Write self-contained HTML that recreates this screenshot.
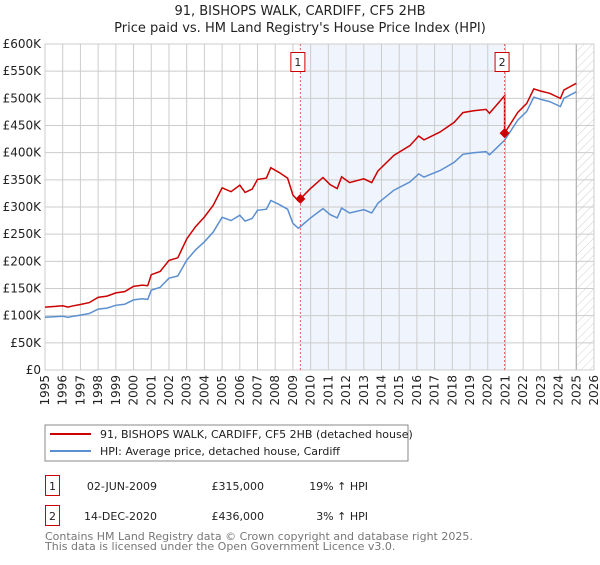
<!DOCTYPE html>
<html><head><meta charset="utf-8"><style>
body{margin:0;background:#fff;}
svg text{font-family:"DejaVu Sans","Liberation Sans",sans-serif;}
</style></head><body>
<svg id="chart" width="600" height="560" xmlns="http://www.w3.org/2000/svg">
<text x="300" y="15" text-anchor="middle" font-size="13" fill="#222">91, BISHOPS WALK, CARDIFF, CF5 2HB</text>
<text x="300" y="32" text-anchor="middle" font-size="13" fill="#222">Price paid vs. HM Land Registry's House Price Index (HPI)</text>
<defs><pattern id="hatch" width="6" height="6" patternUnits="userSpaceOnUse" patternTransform="rotate(45)"><line x1="0" y1="0" x2="0" y2="6" stroke="#d0d0d0" stroke-width="1"/></pattern></defs>
<g id="bg"></g><g id="grid"></g><g id="axes"></g><g id="series"></g><g id="marks"></g>
<rect x="45" y="425" width="363" height="36" fill="#fff" stroke="#888"/>
<line x1="50" y1="434" x2="91" y2="434" stroke="#cc0000" stroke-width="2"/>
<text x="100" y="438" font-size="11" fill="#222">91, BISHOPS WALK, CARDIFF, CF5 2HB (detached house)</text>
<line x1="50" y1="451" x2="91" y2="451" stroke="#5b8fd0" stroke-width="2"/>
<text x="100" y="455" font-size="11" fill="#222">HPI: Average price, detached house, Cardiff</text>
<g font-size="11" fill="#222">
<rect x="45.5" y="475.5" width="14" height="20" fill="none" stroke="#cc0000"/>
<text x="52.5" y="490" text-anchor="middle">1</text>
<text x="157" y="490" text-anchor="end">02-JUN-2009</text>
<text x="264" y="490" text-anchor="end">£315,000</text>
<text x="368" y="490" text-anchor="end">19% ↑ HPI</text>
<rect x="45.5" y="505.5" width="14" height="20" fill="none" stroke="#cc0000"/>
<text x="52.5" y="520" text-anchor="middle">2</text>
<text x="157" y="520" text-anchor="end">14-DEC-2020</text>
<text x="264" y="520" text-anchor="end">£436,000</text>
<text x="368" y="520" text-anchor="end">3% ↑ HPI</text>
</g>
<text x="45" y="540" font-size="11" fill="#777">Contains HM Land Registry data © Crown copyright and database right 2025.</text>
<text x="45" y="550" font-size="11" fill="#777">This data is licensed under the Open Government Licence v3.0.</text>
</svg>
<script>
const hpiYears=[1995,1995.5,1996,1996.3,1996.6,1997,1997.5,1998,1998.5,1999,1999.5,2000,2000.5,2000.8,2001,2001.5,2002,2002.5,2003,2003.5,2004,2004.5,2005,2005.5,2006,2006.3,2006.7,2007,2007.5,2007.75,2008.2,2008.7,2009,2009.3,2009.42,2009.96,2010.7,2011.1,2011.5,2011.75,2012.2,2013.0,2013.45,2013.8,2014.7,2015.6,2016.1,2016.4,2017.3,2018.1,2018.6,2019.2,2019.9,2020.1,2020.95,2021.7,2022.2,2022.6,2023.0,2023.5,2024.1,2024.3,2025.0];
const hpiValues=[97,98,99,97,99,101,104,112,114,119,121,129,131,130,147,152,169,173,202,221,236,254,281,275,285,274,279,294,296,312,305,296,270,261,264,279,297,286,280,298,289,295,289,307,331,346,361,355,367,382,397,400,402,396,423,460,476,502,498,494,485,500,512];
const saleYears=[2009.42,2020.95];
const salePrices=[315,436];
const yTicks=[0,50,100,150,200,250,300,350,400,450,500,550,600];
const xTicks=[1995,1996,1997,1998,1999,2000,2001,2002,2003,2004,2005,2006,2007,2008,2009,2010,2011,2012,2013,2014,2015,2016,2017,2018,2019,2020,2021,2022,2023,2024,2025,2026];
const X0=45,X1=594,Y0=370,Y1=44;
const xs=y=>X0+(y-1995)/(2026-1995)*(X1-X0);
const ys=v=>Y0-v/600*(Y0-Y1);
const NS="http://www.w3.org/2000/svg";
function mk(t,a,p){const e=document.createElementNS(NS,t);for(const k in a)e.setAttribute(k,a[k]);p.appendChild(e);return e;}
function hpiAt(t){for(let i=1;i<hpiYears.length;i++){if(t<=hpiYears[i]){const f=(t-hpiYears[i-1])/(hpiYears[i]-hpiYears[i-1]);return hpiValues[i-1]+f*(hpiValues[i]-hpiValues[i-1]);}}return hpiValues[hpiValues.length-1];}
const bg=document.getElementById('bg'),grid=document.getElementById('grid'),axes=document.getElementById('axes'),series=document.getElementById('series'),marks=document.getElementById('marks');
let r=mk('rect',{x:xs(saleYears[0]),y:Y1,width:xs(saleYears[1])-xs(saleYears[0]),height:Y0-Y1,fill:'#f0f4fd'},bg);


r=mk('rect',{x:xs(2025),y:Y1,width:X1-xs(2025),height:Y0-Y1,fill:'url(#hatch)'},bg);


yTicks.forEach(v=>{
 const l=mk('line',{x1:X0,x2:X1,y1:ys(v),y2:ys(v),stroke:'#ccc'},grid);
 
 
 const t=mk('text',{x:X0-4,y:ys(v)+4,'text-anchor':'end','font-size':'12',fill:'#222'},axes);
 t.textContent=v===0?'£0':'£'+v+'K';
 
 
});
xTicks.forEach(y=>{
 const l=mk('line',{x1:xs(y),x2:xs(y),y1:Y1,y2:Y0,stroke:'#ccc'},grid);
 
 
 const t=mk('text',{x:0,y:0,'text-anchor':'end','font-size':'12',fill:'#222',transform:`translate(${xs(y)+4},${Y0+5}) rotate(-90)`},axes);
 t.textContent=y;
 
 
});
const vl=mk('line',{x1:xs(2025),x2:xs(2025),y1:Y1,y2:Y0,stroke:'#aaa','stroke-width':1},grid);


let hp='';hpiYears.forEach((y,i)=>{hp+=(i?'L':'M')+xs(y).toFixed(1)+','+ys(hpiValues[i]).toFixed(1);});
const hl=mk('path',{d:hp,fill:'none',stroke:'#5b8fd0','stroke-width':1.5},series);


const r1=salePrices[0]/hpiAt(saleYears[0]),r2=salePrices[1]/hpiAt(saleYears[1]);
let rp='';
hpiYears.forEach((y,i)=>{if(y<saleYears[1])rp+=(rp?'L':'M')+xs(y).toFixed(1)+','+ys(hpiValues[i]*r1).toFixed(1);});
rp+='L'+xs(saleYears[1]).toFixed(1)+','+ys(hpiAt(saleYears[1])*r1).toFixed(1);
rp+='L'+xs(saleYears[1]).toFixed(1)+','+ys(salePrices[1]).toFixed(1);
hpiYears.forEach((y,i)=>{if(y>saleYears[1])rp+='L'+xs(y).toFixed(1)+','+ys(hpiValues[i]*r2).toFixed(1);});
const pl=mk('path',{d:rp,fill:'none',stroke:'#cc0000','stroke-width':1.5},series);


saleYears.forEach((y,i)=>{
 const l=mk('line',{x1:xs(y),x2:xs(y),y1:Y1,y2:Y0,stroke:'#e06060','stroke-dasharray':'2,2'},marks);
 
 
 const cx=xs(y),cy=ys(salePrices[i]);
 const d=mk('path',{d:`M${cx},${cy-5}L${cx+5},${cy}L${cx},${cy+5}L${cx-5},${cy}Z`,fill:'#cc0000'},marks);
 
 
 const b=mk('rect',{x:cx-9.5,y:52.5,width:14,height:19,fill:'#fff',stroke:'#cc0000'},marks);
 
 
 const t=mk('text',{x:cx-2.5,y:66,'text-anchor':'middle','font-size':'11',fill:'#222'},marks);
 t.textContent=String(i+1);
 
 
});
const ax=mk('rect',{x:X0,y:Y1,width:X1-X0,height:Y0-Y1,fill:'none',stroke:'#ccc'},axes);


</script>
</body></html>
